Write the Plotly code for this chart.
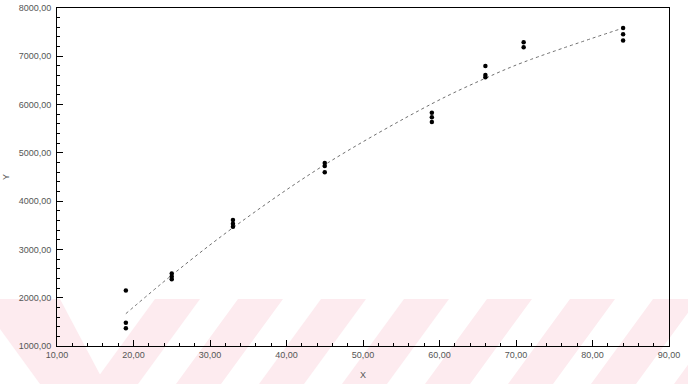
import plotly.graph_objects as go

x_obs = [19, 19, 19, 25, 25, 25, 33, 33, 33, 45, 45, 45,
         59, 59, 59, 66, 66, 66, 71, 71, 84, 84, 84]
y_obs = [2150, 1480, 1370, 2500, 2440, 2380, 3610, 3530, 3470,
         4790, 4730, 4600, 5830, 5740, 5640, 6800, 6610, 6565,
         7290, 7185, 7585, 7455, 7325]

# Fitted curve
x_fit = [19, 25, 33, 45, 59, 66, 71, 84]
y_fit = [1670, 2466, 3449, 4754, 6017, 6545, 6879, 7585]

W, H = 688, 384
L, R, T, B = 57, 19, 8, 38

fig = go.Figure()

# faint watermark stripes (decoration) in pixel-based paper coords
def px(xp, yp):
    return ((xp - L) / (W - L - R), 1 - (yp - T) / (H - T - B))

shapes = []
pink = "#fdebef"
def poly(pts):
    p = [px(a, b) for a, b in pts]
    path = "M " + " L ".join(f"{a:.4f},{b:.4f}" for a, b in p) + " Z"
    shapes.append(dict(type="path", xref="paper", yref="paper", path=path,
                       fillcolor=pink, line=dict(width=0), layer="below"))

poly([(0, 299), (60, 299), (105, 384), (40, 384), (0, 329)])
for k in range(8):
    t0 = 155 + 83 * k
    poly([(t0 - 62, 384), (t0 - 17, 384), (t0 + 45, 299), (t0, 299)])

fig.add_trace(go.Scatter(x=x_fit, y=y_fit, mode="lines",
                         line=dict(color="#707070", width=1, dash="dot", shape="spline"),
                         hoverinfo="skip", showlegend=False))
fig.add_trace(go.Scatter(x=x_obs, y=y_obs, mode="markers",
                         marker=dict(color="black", size=4.5, symbol="circle"),
                         showlegend=False))

axis_font = dict(family="Liberation Sans, Arial, sans-serif", size=9, color="#555555")

fig.update_layout(
    width=W, height=H,
    margin=dict(l=L, r=R, t=T, b=B),
    paper_bgcolor="white",
    plot_bgcolor="rgba(0,0,0,0)",
    separators=",.",
    shapes=shapes,
    font=axis_font,
    xaxis=dict(range=[10, 90], tickmode="linear", tick0=10, dtick=10,
               tickformat=".2f", showgrid=False, zeroline=False, automargin=False,
               showline=True, linecolor="black", linewidth=1, mirror=True,
               ticks="inside", ticklen=6, tickcolor="black",
               minor=dict(ticks="inside", ticklen=3, tickcolor="black", dtick=2),
               tickfont=axis_font,
               title=dict(text="X", font=dict(size=9, color="#555555"), standoff=12)),
    yaxis=dict(range=[1000, 8000], tickmode="linear", tick0=1000, dtick=1000,
               tickformat=".2f", showgrid=False, zeroline=False, automargin=False,
               showline=True, linecolor="black", linewidth=1, mirror=True,
               ticks="inside", ticklen=6, tickcolor="black",
               minor=dict(ticks="inside", ticklen=3, tickcolor="black", dtick=200),
               tickfont=axis_font, ticklabelstandoff=3,
               title=dict(text="Y", font=dict(size=9, color="#555555"), standoff=7)),
)

fig.write_html("out.html")
